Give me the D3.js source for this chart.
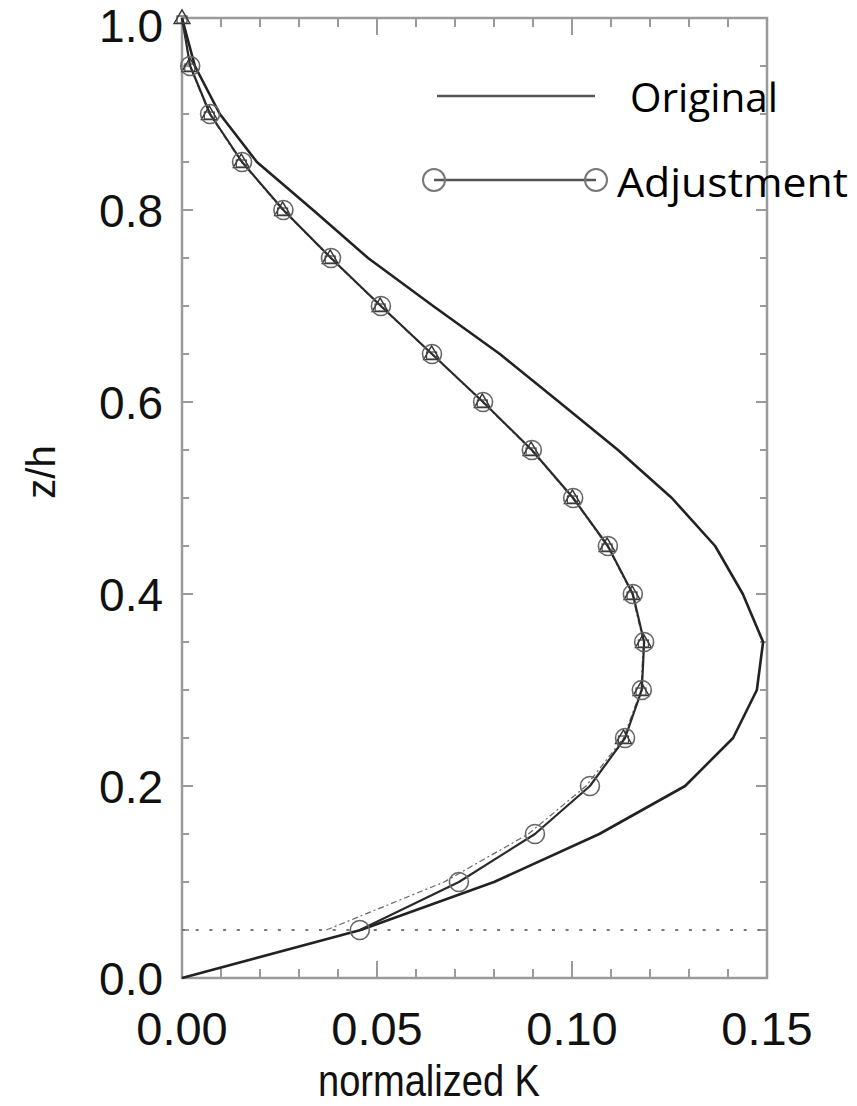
<!DOCTYPE html>
<html>
<head>
<meta charset="utf-8">
<script src="https://cdn.jsdelivr.net/npm/d3@7"></script>
<style>
  body { margin: 0; background: #fff; }
  svg { display: block; }
</style>
</head>
<body>
<div id="chart"></div>
<script>
// z/h levels shared by every profile
const zLevels = [0.00, 0.05, 0.10, 0.15, 0.20, 0.25, 0.30, 0.35, 0.40, 0.45, 0.50,
                 0.55, 0.60, 0.65, 0.70, 0.75, 0.80, 0.85, 0.90, 0.95, 1.00];

// normalized K (null = no value)
const originalK = [0, 0.0458, 0.080, 0.107, 0.129, 0.1413, 0.1474, 0.149, 0.1438, 0.1367, 0.1256,
                   0.1118, 0.0967, 0.0815, 0.0644, 0.0477, 0.0336, 0.0192, 0.0097, 0.0033, 0];
const adjustmentK = [null, 0.0456, 0.0710, 0.0905, 0.1046, 0.1136, 0.1179, 0.1185, 0.1156, 0.1092, 0.1003,
                     0.0897, 0.0772, 0.0641, 0.0510, 0.0382, 0.0260, 0.0154, 0.0072, 0.0021, 0];
// faint overlapping profile (triangles / squares) underneath the circles
const hiddenK = [null, 0.037, 0.0672, 0.0888, 0.1036, 0.1132, 0.1177, 0.1183, 0.1154, 0.109, 0.1001,
                 0.0895, 0.077, 0.064, 0.0508, 0.038, 0.0258, 0.0152, 0.007, 0.002, 0];

const xTicks = [0.00, 0.05, 0.10, 0.15];
const yTicks = [0.0, 0.2, 0.4, 0.6, 0.8, 1.0];
const xMinor = [0.01, 0.02, 0.03, 0.04, 0.06, 0.07, 0.08, 0.09, 0.11, 0.12, 0.13, 0.14];
const yMinor = [0.05, 0.1, 0.15, 0.25, 0.3, 0.35, 0.45, 0.5, 0.55, 0.65, 0.7, 0.75, 0.85, 0.9, 0.95];
const refLevel = 0.05;

const legendItems = ['Original', 'Adjustment'];

const width = 857, height = 1106;
const plot = { left: 182, right: 767, top: 18, bottom: 978 };

const svg = d3.select('#chart').append('svg')
    .attr('width', width)
    .attr('height', height);

const x = d3.scaleLinear().domain([0, 0.15]).range([plot.left, plot.right]);
const y = d3.scaleLinear().domain([0, 1]).range([plot.bottom, plot.top]);

const frameColor = '#9a9a9a';
const tickFont = '"Liberation Sans", Arial, sans-serif';

// ticks on all four sides, pointing inward
const tickG = svg.append('g').attr('stroke', frameColor).attr('stroke-width', 2);
function xTick(v, len) {
    tickG.append('line').attr('x1', x(v)).attr('x2', x(v)).attr('y1', plot.bottom).attr('y2', plot.bottom - len);
    tickG.append('line').attr('x1', x(v)).attr('x2', x(v)).attr('y1', plot.top).attr('y2', plot.top + len);
}
function yTick(v, len) {
    tickG.append('line').attr('x1', plot.left).attr('x2', plot.left + len).attr('y1', y(v)).attr('y2', y(v));
    tickG.append('line').attr('x1', plot.right).attr('x2', plot.right - len).attr('y1', y(v)).attr('y2', y(v));
}
xTicks.forEach(v => xTick(v, 17));
xMinor.forEach(v => xTick(v, 9));
yTicks.forEach(v => yTick(v, 11));
yMinor.forEach(v => yTick(v, 7));

// frame
svg.append('rect')
    .attr('x', plot.left).attr('y', plot.top)
    .attr('width', plot.right - plot.left).attr('height', plot.bottom - plot.top)
    .attr('fill', 'none')
    .attr('stroke', frameColor)
    .attr('stroke-width', 2.5);

// tick labels
svg.append('g').selectAll('text')
    .data(xTicks)
    .enter().append('text')
    .attr('x', d => x(d))
    .attr('y', 1045)
    .attr('text-anchor', 'middle')
    .attr('font-family', tickFont)
    .attr('font-size', 47)
    .attr('fill', '#111')
    .text(d => d3.format('.2f')(d));

svg.append('g').selectAll('text')
    .data(yTicks)
    .enter().append('text')
    .attr('x', 163)
    .attr('y', d => Math.max(y(d) + 17, 42))
    .attr('text-anchor', 'end')
    .attr('font-family', tickFont)
    .attr('font-size', 46)
    .attr('fill', '#111')
    .text(d => d3.format('.1f')(d));

// axis titles
svg.append('text')
    .attr('x', 429)
    .attr('y', 1096)
    .attr('text-anchor', 'middle')
    .attr('font-family', tickFont)
    .attr('font-size', 45)
    .attr('textLength', 222)
    .attr('lengthAdjust', 'spacingAndGlyphs')
    .attr('fill', '#111')
    .text('normalized K');

svg.append('text')
    .attr('transform', 'translate(55,472) rotate(-90)')
    .attr('text-anchor', 'middle')
    .attr('font-family', tickFont)
    .attr('font-size', 40)
    .attr('fill', '#111')
    .text('z/h');

// dotted reference level
svg.append('line')
    .attr('x1', plot.left).attr('x2', plot.right)
    .attr('y1', y(refLevel)).attr('y2', y(refLevel))
    .attr('stroke', '#777')
    .attr('stroke-width', 2)
    .attr('stroke-dasharray', '3,10.7');

const rows = zLevels.map((z, i) => ({ z, orig: originalK[i], adj: adjustmentK[i], hid: hiddenK[i] }));

const line = key => d3.line()
    .defined(d => d[key] !== null)
    .x(d => x(d[key]))
    .y(d => y(d.z));

// faint overlapping profile
svg.append('path')
    .datum(rows)
    .attr('d', line('hid'))
    .attr('fill', 'none')
    .attr('stroke', '#666')
    .attr('stroke-width', 1.2)
    .attr('stroke-dasharray', '6,3,2,3');

// original profile
svg.append('path')
    .datum(rows)
    .attr('d', line('orig'))
    .attr('fill', 'none')
    .attr('stroke', '#222')
    .attr('stroke-width', 2.6)
    .attr('stroke-linejoin', 'round');

// adjustment profile
svg.append('path')
    .datum(rows)
    .attr('d', line('adj'))
    .attr('fill', 'none')
    .attr('stroke', '#2a2a2a')
    .attr('stroke-width', 2.2)
    .attr('stroke-linejoin', 'round');

// triangle + square markers underneath circles
const hidPts = rows.filter(d => d.hid !== null && d.z >= 0.25);
svg.append('g').selectAll('path')
    .data(hidPts)
    .enter().append('path')
    .attr('transform', d => `translate(${x(d.hid)},${y(d.z) + 1})`)
    .attr('d', d3.symbol().type(d3.symbolTriangle).size(110))
    .attr('fill', 'none')
    .attr('stroke', '#333')
    .attr('stroke-width', 1.4);
svg.append('g').selectAll('rect')
    .data(hidPts)
    .enter().append('rect')
    .attr('x', d => x(d.hid) - 5)
    .attr('y', d => y(d.z) - 2)
    .attr('width', 10)
    .attr('height', 7)
    .attr('fill', 'none')
    .attr('stroke', '#444')
    .attr('stroke-width', 1.2);

// circles
svg.append('g').selectAll('circle')
    .data(rows.filter(d => d.adj !== null && d.z < 1))
    .enter().append('circle')
    .attr('cx', d => x(d.adj))
    .attr('cy', d => y(d.z))
    .attr('r', 9.5)
    .attr('fill', 'none')
    .attr('stroke', '#666')
    .attr('stroke-width', 1.6);

// legend
const legendFont = '"Open Sans", "Noto Sans", sans-serif';
const lg = svg.append('g');
lg.append('line')
    .attr('x1', 437).attr('x2', 595).attr('y1', 96).attr('y2', 96)
    .attr('stroke', '#555').attr('stroke-width', 2.5);
lg.append('text')
    .attr('x', 630).attr('y', 112)
    .attr('font-family', legendFont)
    .attr('font-size', 41)
    .attr('textLength', 148)
    .attr('lengthAdjust', 'spacingAndGlyphs')
    .attr('fill', '#000')
    .text(legendItems[0]);

lg.append('line')
    .attr('x1', 434).attr('x2', 596).attr('y1', 180).attr('y2', 180)
    .attr('stroke', '#555').attr('stroke-width', 2.5);
[434, 596].forEach(cx => {
    lg.append('circle')
        .attr('cx', cx).attr('cy', 180).attr('r', 11)
        .attr('fill', 'none')
        .attr('stroke', '#777')
        .attr('stroke-width', 2);
});
lg.append('text')
    .attr('x', 617).attr('y', 197)
    .attr('font-family', legendFont)
    .attr('font-size', 41)
    .attr('textLength', 231)
    .attr('lengthAdjust', 'spacingAndGlyphs')
    .attr('fill', '#000')
    .text(legendItems[1]);
</script>
</body>
</html>
